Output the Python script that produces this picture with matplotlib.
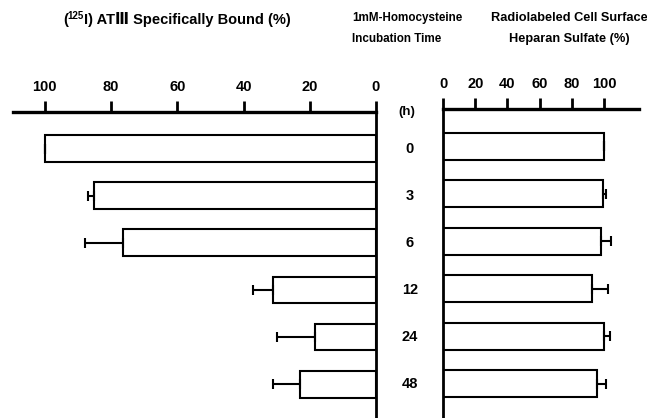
import matplotlib
matplotlib.use("Agg")
import matplotlib.pyplot as plt
from matplotlib.text import Annotation
from matplotlib.transforms import blended_transform_factory

# incubation time (h) and the two read-off series, with one-sided error bars
hours = ["0", "3", "6", "12", "24", "48"]
at3_bound = [100, 85, 76.5, 31, 18.5, 23]
at3_err = [0, 2, 11.5, 6, 11.5, 8]
heparan = [100, 99.3, 98.3, 92.4, 99.8, 95.5]
heparan_err = [0, 2, 6, 10, 4, 6]
left_ticks = [100, 80, 60, 40, 20, 0]
right_ticks = [0, 20, 40, 60, 80, 100]

plt.rcParams["font.family"] = ["Liberation Sans", "DejaVu Sans"]
plt.rcParams["font.weight"] = "bold"

W, H = 647, 418
fig = plt.figure(figsize=(W / 100, H / 100), dpi=100)


def px_axes(x0, x1, ytop):
    return fig.add_axes([x0 / W, 0, (x1 - x0) / W, 1 - ytop / H])


pos = list(range(len(hours)))
ylim = (5.72, -0.78)

# --- left panel: ATIII binding, axis runs right-to-left ---
ax_l = px_axes(13, 376, 112)
ax_l.barh(pos, at3_bound, height=0.57, color="white", edgecolor="black", linewidth=1.5)
ax_l.errorbar(at3_bound, pos, xerr=[[0] * len(pos), at3_err], fmt="none",
              ecolor="black", elinewidth=1.5, capsize=3.5, capthick=1.5)
ax_l.set_xlim(109.6, 0)
ax_l.set_ylim(*ylim)
for s in ("left", "bottom"):
    ax_l.spines[s].set_visible(False)
ax_l.spines["top"].set_linewidth(2.4)
ax_l.spines["right"].set_linewidth(2)
ax_l.set_xticks(left_ticks)

# --- right panel: heparan sulfate ---
ax_r = px_axes(443, 639, 109)
ax_r.barh(pos, heparan, height=0.57, color="white", edgecolor="black", linewidth=1.5)
ax_r.errorbar(heparan, pos, xerr=[[0] * len(pos), heparan_err], fmt="none",
              ecolor="black", elinewidth=1.5, capsize=3.5, capthick=1.5)
ax_r.set_xlim(0, 121.7)
ax_r.set_ylim(*ylim)
for s in ("right", "bottom"):
    ax_r.spines[s].set_visible(False)
ax_r.spines["top"].set_linewidth(2.4)
ax_r.spines["left"].set_linewidth(2)
ax_r.set_xticks(right_ticks)

for ax in (ax_l, ax_r):
    ax.xaxis.set_ticks_position("top")
    ax.tick_params(axis="x", direction="out", length=8, width=2, pad=5, labelsize=10.5)
    ax.set_yticks([])
    for lab in ax.get_xticklabels():
        lab.set_fontweight("bold")

# hour labels between the panels
tr = blended_transform_factory(fig.transFigure, ax_l.transData)
for p, h in zip(pos, hours):
    fig.text(410 / W, p, h, transform=tr, ha="center", va="center",
             fontsize=10.5, fontweight="bold")
fig.text(407 / W, 1 - 112 / H, "(h)", ha="center", va="center", fontsize=9.5, fontweight="bold")

# left header, built in pieces so the superscript and the roman numeral both render
t0 = fig.text(63 / W, 1 - 27 / H, "(", ha="left", va="bottom", fontsize=10.5, fontweight="bold")
t1 = fig.add_artist(Annotation("125", xy=(1, 0.42), xycoords=t0, ha="left", va="bottom",
                               fontsize=7, fontweight="bold"))
fig.add_artist(Annotation("I) AT\u2162 Specifically Bound (%)", xy=(1, 0), xycoords=(t1, t0),
                          ha="left", va="bottom", fontsize=10.5, fontweight="bold"))

fig.text(352 / W, 1 - 18 / H, "1mM-Homocysteine", ha="left", va="center",
         fontsize=8.4, fontweight="bold")
fig.text(352 / W, 1 - 39 / H, "Incubation Time", ha="left", va="center",
         fontsize=8.4, fontweight="bold")
fig.text(569 / W, 1 - 18 / H, "Radiolabeled Cell Surface", ha="center", va="center",
         fontsize=9.2, fontweight="bold")
fig.text(569 / W, 1 - 39 / H, "Heparan Sulfate (%)", ha="center", va="center",
         fontsize=9.2, fontweight="bold")

fig.savefig("out.png", dpi=100, facecolor="white")
